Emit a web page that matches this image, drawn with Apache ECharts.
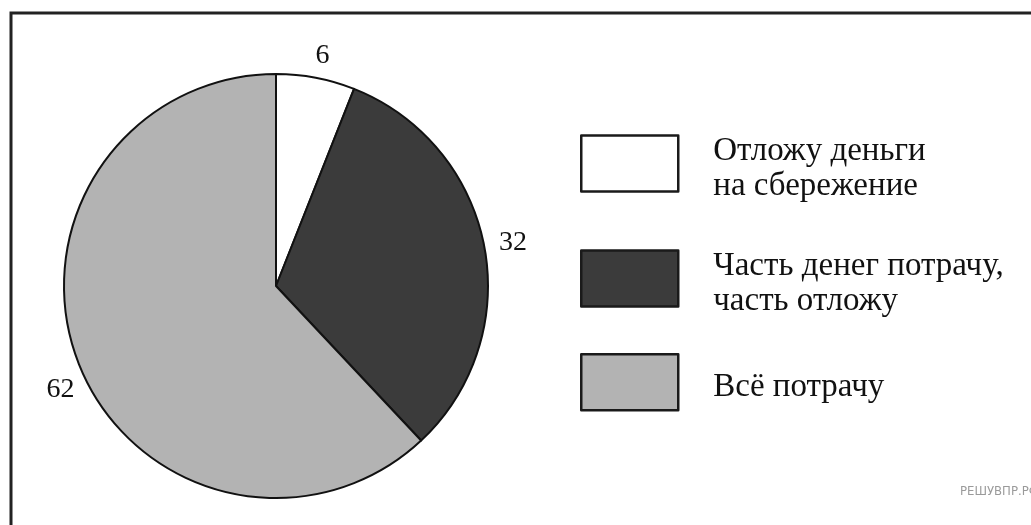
<!DOCTYPE html>
<html>
<head>
<meta charset="utf-8">
<script src="https://cdn.jsdelivr.net/npm/echarts@6/dist/echarts.min.js"></script>
<style>
    html, body { margin: 0; padding: 0; background: #fff; }
    #main { width: 1031px; height: 525px; }
</style>
</head>
<body>
<div id="main"></div>
<script>
// данные опроса
var names = ['Отложу деньги\nна сбережение', 'Часть денег потрачу,\nчасть отложу', 'Всё потрачу'];
var values = [6, 32, 62];
var colors = ['#ffffff', '#3b3b3b', '#b3b3b3'];

(function () {
    var myChart = echarts.init(document.getElementById('main'));

    var data = [];
    for (var i = 0; i < names.length; i++) {
        data.push({ name: names[i], value: values[i] });
    }

    var option = {
        animation: false,
        color: colors,
        legend: {
            orient: 'vertical',
            left: 580,
            top: 123,
            padding: 0,
            itemWidth: 97,
            itemHeight: 56,
            itemGap: 34,
            icon: 'rect',
            selectedMode: false,
            itemStyle: {
                borderColor: '#1a1a1a',
                borderWidth: 2.5
            },
            // пустая строчка сверху, чтобы текст стоял чуть ниже центра квадрата
            formatter: function (name) {
                return '{pad| }\n' + name;
            },
            textStyle: {
                fontFamily: 'Liberation Serif',
                fontSize: 33,
                lineHeight: 35,
                color: '#111',
                padding: [0, 0, 0, 30],
                rich: {
                    pad: { fontSize: 2, lineHeight: 11 }
                }
            }
        },
        // рамка и подпись сайта
        graphic: [
            {
                type: 'rect',
                silent: true,
                shape: { x: 11, y: 13, width: 1100, height: 600 },
                style: { fill: 'none', stroke: '#222', lineWidth: 3 }
            },
            {
                type: 'text',
                silent: true,
                left: 960,
                top: 485,
                style: {
                    text: 'РЕШУВПР.РФ',
                    fill: '#9a9a9a',
                    font: '13px "DejaVu Sans Condensed", sans-serif'
                }
            }
        ],
        series: [{
            type: 'pie',
            center: [276, 286],
            radius: 212,
            startAngle: 90,
            clockwise: true,
            silent: true,
            data: data,
            itemStyle: {
                borderColor: '#111',
                borderWidth: 2
            },
            label: {
                show: true,
                position: 'outside',
                formatter: '{c}',
                fontFamily: 'Liberation Serif',
                fontSize: 28,
                color: '#111'
            },
            labelLine: {
                show: false,
                length: 10,
                length2: 0
            },
            // небольшие сдвиги подписей как на рисунке
            labelLayout: function (params) {
                if (params.dataIndex === 0) return { dx: -7, dy: -12 };
                if (params.dataIndex === 2) return { dx: 10, dy: 22 };
                return { dy: -2 };
            },
            emphasis: { disabled: true }
        }]
    };

    myChart.setOption(option);
    window.addEventListener('resize', function () {
        myChart.resize();
    });
})();
</script>
</body>
</html>
